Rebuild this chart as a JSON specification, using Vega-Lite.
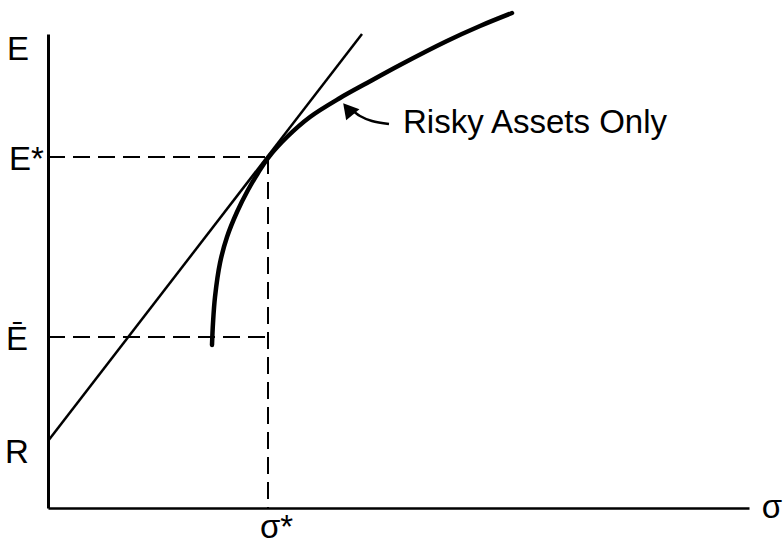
{
  "$schema": "https://vega.github.io/schema/vega-lite/v6.json",
  "width": 701,
  "height": 474,
  "autosize": {"type": "none"},
  "padding": {"left": 48, "top": 34, "right": 35, "bottom": 39},
  "background": "white",
  "config": {
    "view": {"stroke": null},
    "axis": {"grid": false, "ticks": false, "labels": false, "title": null, "domainColor": "black"}
  },
  "datasets": {
    "curve": [
      {"i": 0, "x": 164, "y": 163},
      {"i": 1, "x": 165, "y": 185},
      {"i": 2, "x": 167, "y": 211},
      {"i": 3, "x": 172, "y": 245},
      {"i": 4, "x": 179, "y": 271},
      {"i": 5, "x": 189, "y": 296},
      {"i": 6, "x": 200, "y": 318},
      {"i": 7, "x": 210, "y": 335},
      {"i": 8, "x": 220, "y": 350},
      {"i": 9, "x": 239, "y": 371},
      {"i": 10, "x": 262, "y": 391},
      {"i": 11, "x": 292, "y": 410},
      {"i": 12, "x": 319, "y": 425},
      {"i": 13, "x": 352, "y": 443},
      {"i": 14, "x": 399, "y": 467},
      {"i": 15, "x": 432, "y": 482},
      {"i": 16, "x": 464, "y": 495}
    ],
    "dashes": [
      {"x": 0, "y": 351, "x2": 220, "y2": 351},
      {"x": 220, "y": 351, "x2": 220, "y2": 0},
      {"x": 0, "y": 171, "x2": 220, "y2": 171}
    ],
    "tangent": [{"x": 0, "y": 67, "x2": 314, "y2": 474}],
    "arrow": [
      {"i": 0, "x": 341, "y": 384},
      {"i": 1, "x": 324, "y": 387},
      {"i": 2, "x": 312, "y": 392},
      {"i": 3, "x": 303, "y": 399}
    ],
    "head": [{"x": 300, "y": 399}],
    "labels": [
      {"label": "E", "x": -30, "y": 458},
      {"label": "E*", "x": -21.5, "y": 348},
      {"label": "Ē", "x": -31, "y": 168},
      {"label": "R", "x": -31, "y": 55},
      {"label": "σ*", "x": 228.5, "y": -20},
      {"label": "σ", "x": 724, "y": 0},
      {"label": "Risky Assets Only", "x": 487, "y": 385}
    ]
  },
  "layer": [
    {
      "data": {"name": "dashes"},
      "mark": {"type": "rule", "strokeDash": [17, 8], "strokeWidth": 2, "color": "black"},
      "encoding": {
        "x": {"field": "x", "type": "quantitative", "scale": {"domain": [0, 701], "nice": false, "zero": false}, "axis": {"domainWidth": 2.5, "orient": "bottom"}},
        "y": {"field": "y", "type": "quantitative", "scale": {"domain": [0, 474], "nice": false, "zero": false}, "axis": {"domainWidth": 3, "orient": "left"}},
        "x2": {"field": "x2"},
        "y2": {"field": "y2"}
      }
    },
    {
      "data": {"name": "tangent"},
      "mark": {"type": "rule", "strokeWidth": 2.5, "color": "black"},
      "encoding": {
        "x": {"field": "x", "type": "quantitative"},
        "y": {"field": "y", "type": "quantitative"},
        "x2": {"field": "x2"},
        "y2": {"field": "y2"}
      }
    },
    {
      "data": {"name": "curve"},
      "mark": {"type": "line", "strokeWidth": 4.5, "color": "black", "interpolate": "catmull-rom", "strokeCap": "round"},
      "encoding": {
        "x": {"field": "x", "type": "quantitative"},
        "y": {"field": "y", "type": "quantitative"},
        "order": {"field": "i", "type": "quantitative"}
      }
    },
    {
      "data": {"name": "arrow"},
      "mark": {"type": "line", "strokeWidth": 2.5, "color": "black", "interpolate": "catmull-rom"},
      "encoding": {
        "x": {"field": "x", "type": "quantitative"},
        "y": {"field": "y", "type": "quantitative"},
        "order": {"field": "i", "type": "quantitative"}
      }
    },
    {
      "data": {"name": "head"},
      "mark": {"type": "point", "shape": "triangle-up", "filled": true, "color": "black", "opacity": 1, "size": 300, "angle": 320},
      "encoding": {
        "x": {"field": "x", "type": "quantitative"},
        "y": {"field": "y", "type": "quantitative"}
      }
    },
    {
      "data": {"name": "labels"},
      "mark": {"type": "text", "font": "Liberation Sans", "fontSize": 33, "color": "black", "align": "center", "baseline": "middle"},
      "encoding": {
        "x": {"field": "x", "type": "quantitative"},
        "y": {"field": "y", "type": "quantitative"},
        "text": {"field": "label"}
      }
    }
  ]
}
